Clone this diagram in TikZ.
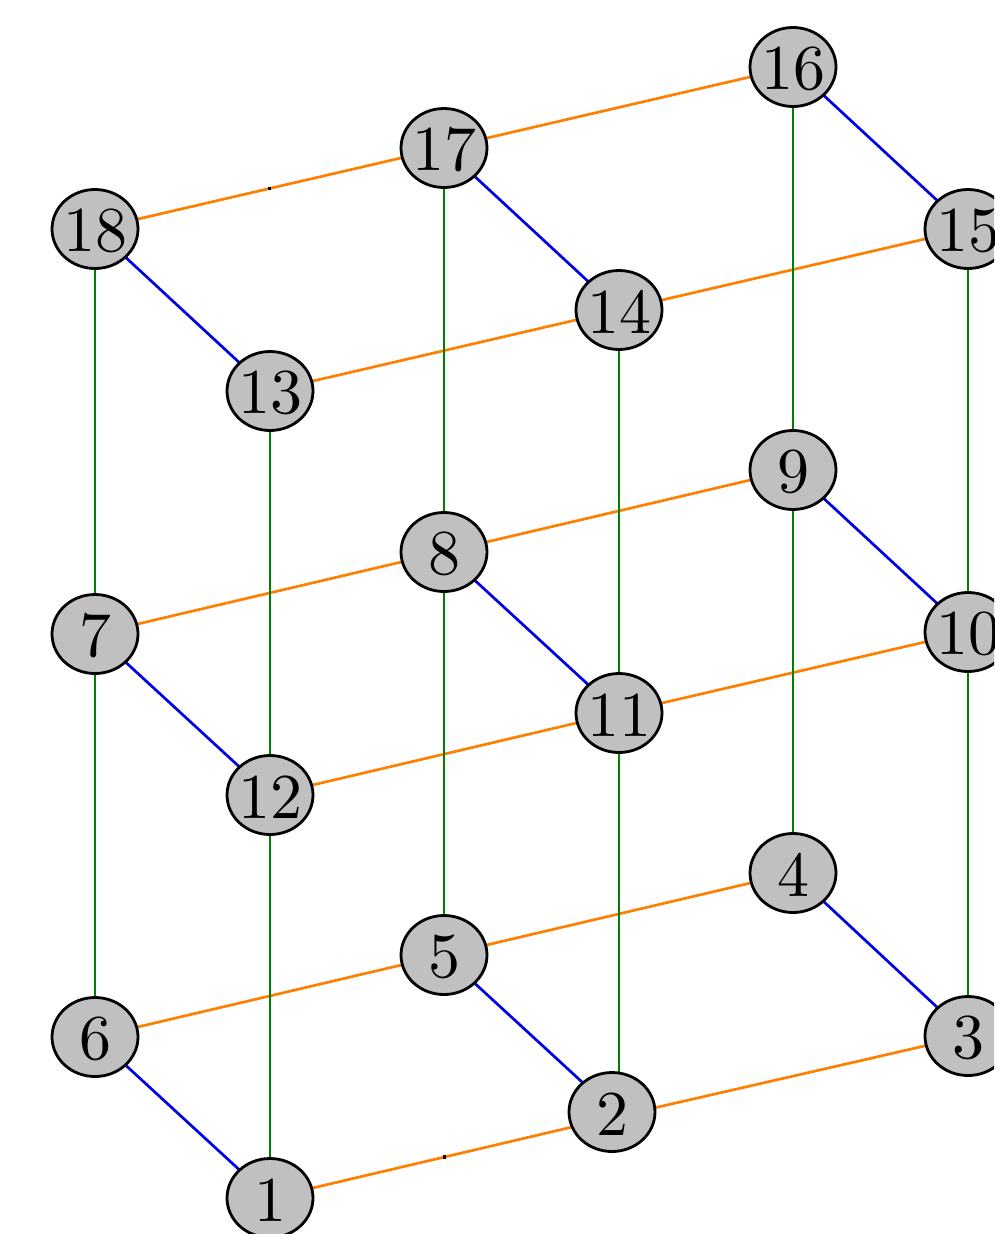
\documentclass[tikz,border=0pt]{standalone}
\usetikzlibrary{shapes.geometric,backgrounds}
\definecolor{eorange}{RGB}{255,128,0}
\definecolor{eblue}{RGB}{0,0,230}
\definecolor{egreen}{RGB}{0,128,0}
\definecolor{vfill}{RGB}{192,192,192}
\begin{document}
\begin{tikzpicture}[x=1pt,y=-1pt,
  vert/.style={ellipse, draw=black, line width=2.8pt, fill=vfill,
    minimum width=86pt, minimum height=79pt, inner sep=0pt},
  num/.style={font=\fontsize{10}{12}\selectfont, inner sep=0pt, scale=6.4},
  oedge/.style={draw=eorange, line width=2.7pt},
  bedge/.style={draw=eblue, line width=2.7pt},
  gedge/.style={draw=egreen, line width=2.7pt},
  tick/.style={fill=black, inner sep=0pt, minimum size=3.5pt}]
\useasboundingbox (0,0) rectangle (994,1234);
\clip (0,0) rectangle (994,1234);
% vertices
\node[vert] (n1) at (270,1198) {};
\coordinate (c2) at (619,1116);
\node[vert] (n2) at (612,1112) {};
\node[vert] (n3) at (968,1036) {};
\node[vert] (n4) at (793,873) {};
\node[vert] (n5) at (444,955) {};
\node[vert] (n6) at (95,1037) {};
\node[vert] (n7) at (95,634) {};
\node[vert] (n8) at (444,552) {};
\node[vert] (n9) at (793,470) {};
\node[vert] (n10) at (968,632) {};
\node[vert] (n11) at (619,713) {};
\node[vert] (n12) at (270,795) {};
\node[vert] (n13) at (270,391) {};
\node[vert] (n14) at (619,310) {};
\node[vert] (n15) at (968,229) {};
\node[vert] (n16) at (793,67) {};
\node[vert] (n17) at (444,148) {};
\node[vert] (n18) at (95,229) {};
% labels
\foreach \i in {1,...,18} {\node[num] (t\i) at ([yshift=-2pt]n\i.center) {\i};}
% edges
\begin{scope}[on background layer]
\draw[oedge] (n6.center) -- (n5.center);
\draw[oedge] (n5.center) -- (n4.center);
\draw[oedge] (n1.center) -- node[tick] (m1) {} (c2);
\draw[oedge] (c2) -- (n3.center);
\draw[oedge] (n7.center) -- (n8.center);
\draw[oedge] (n8.center) -- (n9.center);
\draw[oedge] (n12.center) -- (n11.center);
\draw[oedge] (n11.center) -- (n10.center);
\draw[oedge] (n18.center) -- node[tick] (m2) {} (n17.center);
\draw[oedge] (n17.center) -- (n16.center);
\draw[oedge] (n13.center) -- (n14.center);
\draw[oedge] (n14.center) -- (n15.center);
\draw[bedge] (n6.center) -- (n1.center);
\draw[bedge] (n5.center) -- (c2);
\draw[bedge] (n4.center) -- (n3.center);
\draw[bedge] (n7.center) -- (n12.center);
\draw[bedge] (n8.center) -- (n11.center);
\draw[bedge] (n9.center) -- (n10.center);
\draw[bedge] (n18.center) -- (n13.center);
\draw[bedge] (n17.center) -- (n14.center);
\draw[bedge] (n16.center) -- (n15.center);
\draw[gedge] (n6.center) -- (n7.center);
\draw[gedge] (n7.center) -- (n18.center);
\draw[gedge] (n1.center) -- (n12.center);
\draw[gedge] (n12.center) -- (n13.center);
\draw[gedge] (n5.center) -- (n8.center);
\draw[gedge] (n8.center) -- (n17.center);
\draw[gedge] (c2) -- (n11.center);
\draw[gedge] (n11.center) -- (n14.center);
\draw[gedge] (n4.center) -- (n9.center);
\draw[gedge] (n9.center) -- (n16.center);
\draw[gedge] (n3.center) -- (n10.center);
\draw[gedge] (n10.center) -- (n15.center);
\end{scope}
\end{tikzpicture}
\end{document}
